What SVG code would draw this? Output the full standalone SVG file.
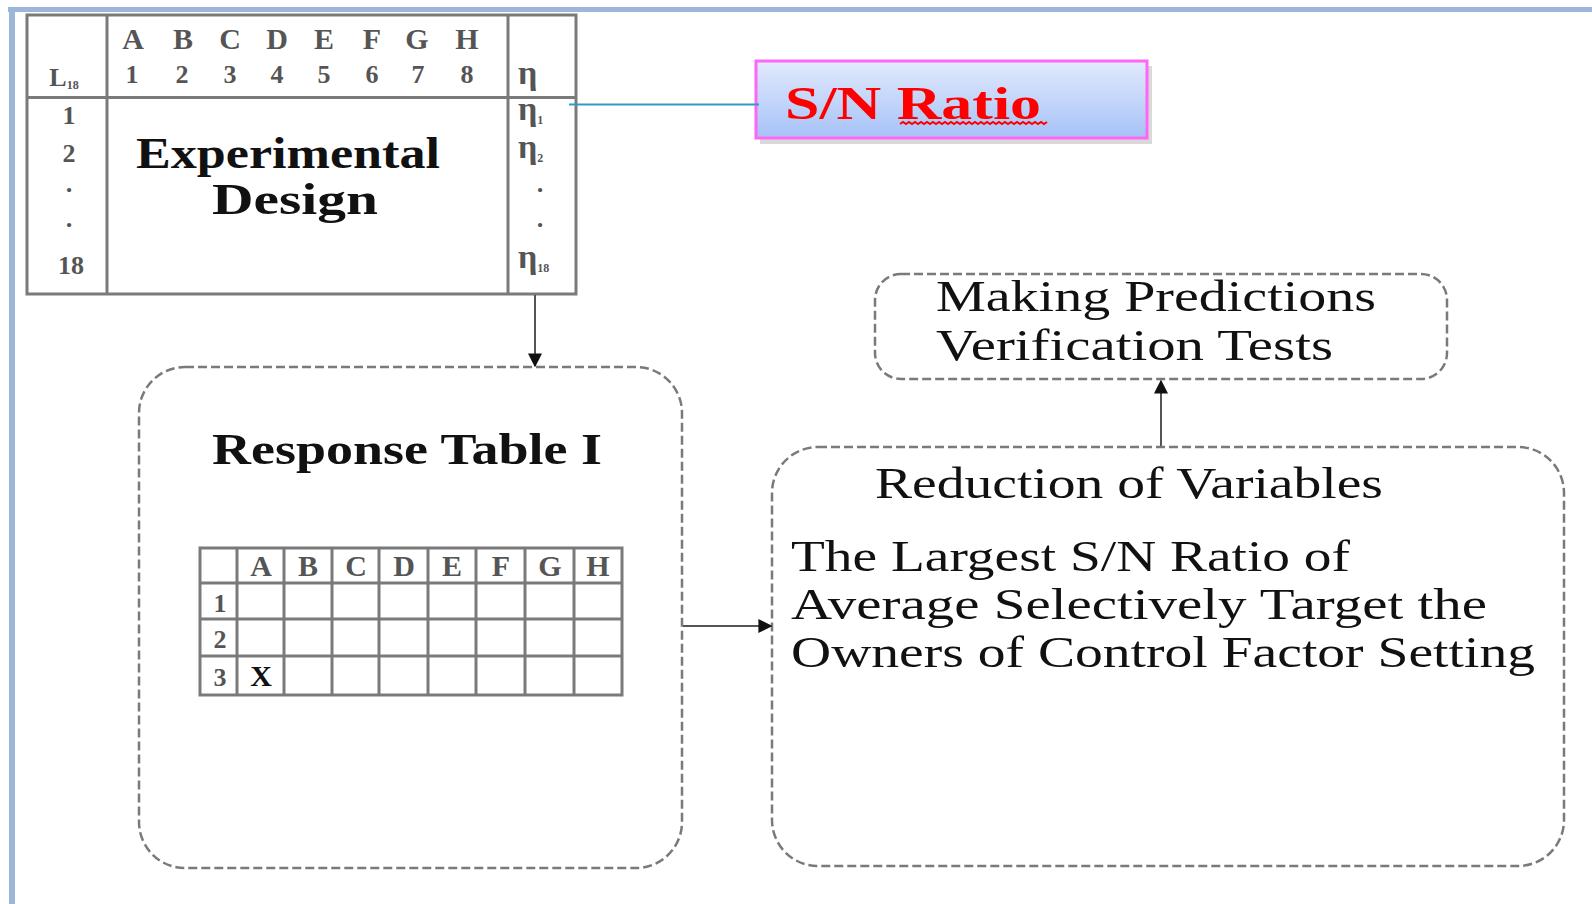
<svg xmlns="http://www.w3.org/2000/svg" width="1592" height="904" viewBox="0 0 1592 904">
<style>
.serif{font-family:"Liberation Serif","Times New Roman",serif}
.hd{font-family:"Liberation Serif",serif;font-weight:bold;fill:#555;font-size:30px;text-anchor:middle}
.num{font-family:"Liberation Serif",serif;font-weight:bold;fill:#555;font-size:26px;text-anchor:middle}
.eta{font-family:"Liberation Serif",serif;font-weight:bold;fill:#555;font-size:34px}
.big{font-family:"Liberation Serif",serif;fill:#111;font-size:44px}
.bold{font-weight:bold}
.grid{stroke:#7a7a7a;stroke-width:3;fill:none}
.dash{fill:#fff;stroke:#7a7a7a;stroke-width:2.5;stroke-dasharray:9 4}
.conn{stroke:#555;stroke-width:2;fill:none}
</style>
<defs>
<marker id="ah" viewBox="0 0 10 10" refX="9" refY="5" markerWidth="7" markerHeight="7" orient="auto">
<path d="M0,0 L10,5 L0,10 z" fill="#111"/>
</marker>
<linearGradient id="sng" x1="0" y1="0" x2="0" y2="1">
<stop offset="0" stop-color="#e2eafd"/>
<stop offset="1" stop-color="#a6c2f7"/>
</linearGradient>
</defs>
<rect width="1592" height="904" fill="#fff"/>
<g id="frame">
<rect x="8" y="7" width="1584" height="5" fill="#9cb6da"/>
<rect x="9" y="7" width="6" height="897" fill="#9cb6da"/>
</g>

<g id="experimental-design">
<rect x="27" y="15" width="549" height="279" fill="#fff" class="grid"/>
<line x1="107" y1="15" x2="107" y2="294" class="grid"/>
<line x1="508" y1="15" x2="508" y2="294" class="grid"/>
<line x1="27" y1="97.5" x2="576" y2="97.5" class="grid"/>
<text class="hd" y="49"><tspan x="133">A</tspan><tspan x="183">B</tspan><tspan x="230">C</tspan><tspan x="277">D</tspan><tspan x="324">E</tspan><tspan x="372">F</tspan><tspan x="417">G</tspan><tspan x="467">H</tspan></text>
<text class="num" y="83"><tspan x="132">1</tspan><tspan x="182">2</tspan><tspan x="230">3</tspan><tspan x="277">4</tspan><tspan x="324">5</tspan><tspan x="372">6</tspan><tspan x="418">7</tspan><tspan x="467">8</tspan></text>
<text class="num" x="64" y="86" font-size="30">L<tspan font-size="12" dy="3">18</tspan></text>
<text class="num" y="124"><tspan x="69">1</tspan></text>
<text class="num" y="162"><tspan x="69">2</tspan></text>
<text class="num" y="198"><tspan x="69">·</tspan></text>
<text class="num" y="233"><tspan x="69">·</tspan></text>
<text class="num" y="274"><tspan x="71">18</tspan></text>
<text class="eta" x="518" y="84">η</text>
<text class="eta" x="518" y="120">η<tspan font-size="12" dy="4">1</tspan></text>
<text class="eta" x="518" y="158">η<tspan font-size="12" dy="4">2</tspan></text>
<text class="num" x="540" y="198">·</text>
<text class="num" x="540" y="233">·</text>
<text class="eta" x="518" y="268">η<tspan font-size="12" dy="4">18</tspan></text>
<text class="big bold" x="136" y="168" textLength="304" lengthAdjust="spacingAndGlyphs">Experimental</text>
<text class="big bold" x="212" y="214" textLength="166" lengthAdjust="spacingAndGlyphs">Design</text>
</g>

<g id="sn-ratio">
<rect x="760" y="66" width="392" height="78" fill="#d0d0d0" opacity="0.8"/>
<rect x="756" y="61" width="391" height="77" fill="url(#sng)" stroke="#ff66f5" stroke-width="3"/>
<text class="serif bold" x="785" y="119" font-size="46" fill="#ff0000" textLength="256" lengthAdjust="spacingAndGlyphs">S/N Ratio</text>
<path d="M900,124 l3,-2 l3,2 l3,-2 l3,2 l3,-2 l3,2 l3,-2 l3,2 l3,-2 l3,2 l3,-2 l3,2 l3,-2 l3,2 l3,-2 l3,2 l3,-2 l3,2 l3,-2 l3,2 l3,-2 l3,2 l3,-2 l3,2 l3,-2 l3,2 l3,-2 l3,2 l3,-2 l3,2 l3,-2 l3,2 l3,-2 l3,2 l3,-2 l3,2 l3,-2 l3,2 l3,-2 l3,2 l3,-2 l3,2 l3,-2 l3,2 l3,-2 l3,2 l3,-2 l3,2 l3,-2" fill="none" stroke="#ff0000" stroke-width="2"/>
</g>

<g id="response-table">
<rect x="139" y="367" width="543" height="501" rx="46" ry="46" class="dash"/>
<text class="big bold" x="212" y="464" textLength="390" lengthAdjust="spacingAndGlyphs">Response Table I</text>
<g class="grid">
<rect x="200" y="548" width="422" height="147"/>
<line x1="200" y1="583" x2="622" y2="583"/>
<line x1="200" y1="619" x2="622" y2="619"/>
<line x1="200" y1="656" x2="622" y2="656"/>
<line x1="237" y1="548" x2="237" y2="695"/>
<line x1="284" y1="548" x2="284" y2="695"/>
<line x1="332" y1="548" x2="332" y2="695"/>
<line x1="379" y1="548" x2="379" y2="695"/>
<line x1="428" y1="548" x2="428" y2="695"/>
<line x1="476" y1="548" x2="476" y2="695"/>
<line x1="525" y1="548" x2="525" y2="695"/>
<line x1="574" y1="548" x2="574" y2="695"/>
</g>
<text class="hd" y="576" font-size="28"><tspan x="261">A</tspan><tspan x="308">B</tspan><tspan x="356">C</tspan><tspan x="404">D</tspan><tspan x="452">E</tspan><tspan x="501">F</tspan><tspan x="550">G</tspan><tspan x="598">H</tspan></text>
<text class="num" y="612"><tspan x="220">1</tspan></text>
<text class="num" y="648"><tspan x="220">2</tspan></text>
<text class="num" y="686"><tspan x="220">3</tspan></text>
<text class="serif bold" x="261" y="686" font-size="30" fill="#111" text-anchor="middle">X</text>
</g>

<g id="reduction">
<rect x="772" y="447" width="792" height="419" rx="46" ry="46" class="dash"/>
<text class="big" x="875" y="498" textLength="508" lengthAdjust="spacingAndGlyphs">Reduction of Variables</text>
<text class="big" x="791" y="571" textLength="559" lengthAdjust="spacingAndGlyphs">The Largest S/N Ratio of</text>
<text class="big" x="791" y="619" textLength="696" lengthAdjust="spacingAndGlyphs">Average Selectively Target the</text>
<text class="big" x="791" y="667" textLength="744" lengthAdjust="spacingAndGlyphs">Owners of Control Factor Setting</text>
</g>

<g id="predictions">
<rect x="875" y="274" width="572" height="105" rx="26" ry="26" class="dash"/>
<text class="big" x="936" y="311" textLength="440" lengthAdjust="spacingAndGlyphs">Making Predictions</text>
<text class="big" x="936" y="360" textLength="397" lengthAdjust="spacingAndGlyphs">Verification Tests</text>
</g>

<g id="connectors">
<line x1="569" y1="104.5" x2="759" y2="104.5" stroke="#2f9cc0" stroke-width="2"/>
<line x1="535" y1="295" x2="535" y2="366" class="conn" marker-end="url(#ah)"/>
<line x1="683" y1="626" x2="771" y2="626" class="conn" marker-end="url(#ah)"/>
<line x1="1161" y1="446" x2="1161" y2="381" class="conn" marker-end="url(#ah)"/>
</g>
</svg>
